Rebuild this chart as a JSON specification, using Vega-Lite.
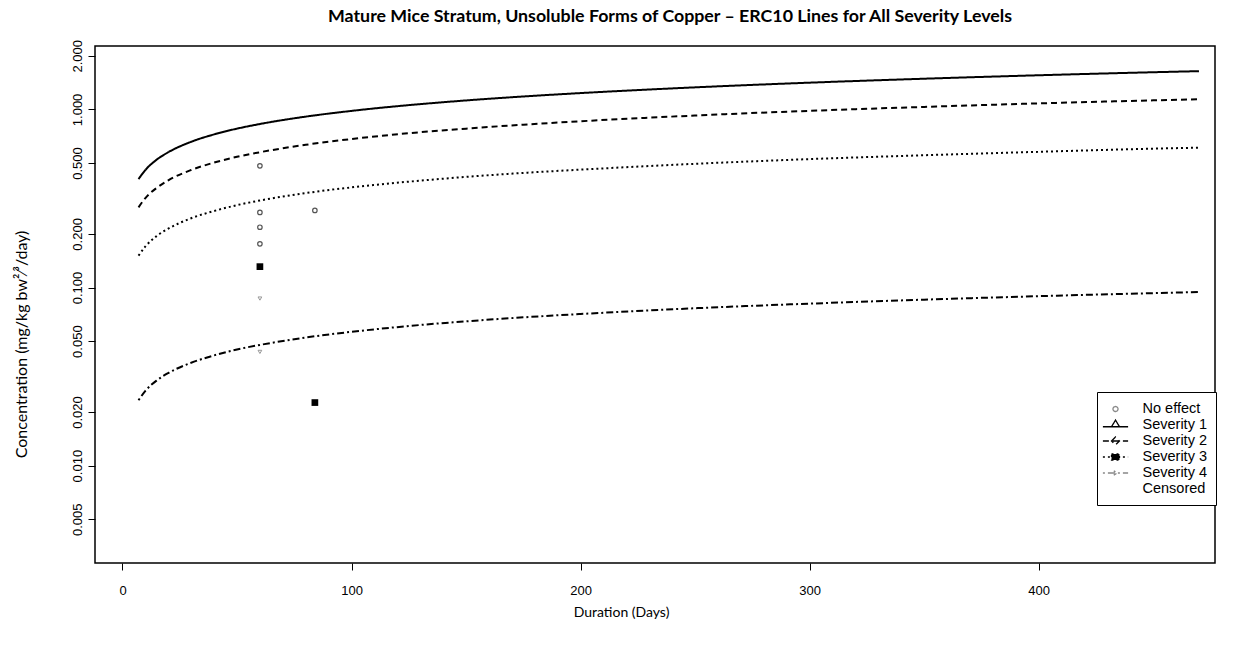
{
  "$schema": "https://vega.github.io/schema/vega-lite/v6.json",
  "autosize": {"type": "none"},
  "padding": {"left": 95, "top": 46, "right": 27, "bottom": 83},
  "width": 1120,
  "height": 517,
  "background": "white",
  "title": {
    "text": "Mature Mice Stratum, Unsoluble Forms of Copper \u2013 ERC10 Lines for All Severity Levels",
    "font": "Lato",
    "fontSize": 17.8,
    "fontWeight": "bold",
    "color": "black",
    "offset": 14,
    "dx": 15
  },
  "config": {
    "view": {"stroke": "black", "strokeWidth": 1.5},
    "axis": {
      "domain": false,
      "grid": false,
      "ticks": true,
      "tickColor": "black",
      "tickSize": 7,
      "tickWidth": 1,
      "labelFont": "Liberation Sans",
      "labelFontSize": 13,
      "labelColor": "black",
      "titleFont": "Lato",
      "titleFontSize": 14,
      "titleFontWeight": "normal",
      "titleColor": "black"
    },
    "legend": {
      "orient": "none",
      "legendX": 1002,
      "legendY": 346,
      "strokeColor": "black",
      "fillColor": "white",
      "padding": 9,
      "symbolSize": 196,
      "symbolOffset": 1.5,
      "symbolStrokeWidth": 1.3,
      "labelFont": "Liberation Sans",
      "labelFontSize": 14.5,
      "labelColor": "black",
      "labelOffset": 19,
      "rowPadding": 1
    }
  },
  "datasets": {
    "curves": [
      {"series": "Severity 1", "duration": 7, "conc": 0.406},
      {"series": "Severity 1", "duration": 10, "conc": 0.457},
      {"series": "Severity 1", "duration": 15, "conc": 0.523},
      {"series": "Severity 1", "duration": 20, "conc": 0.575},
      {"series": "Severity 1", "duration": 30, "conc": 0.658},
      {"series": "Severity 1", "duration": 40, "conc": 0.724},
      {"series": "Severity 1", "duration": 50, "conc": 0.780},
      {"series": "Severity 1", "duration": 60, "conc": 0.828},
      {"series": "Severity 1", "duration": 80, "conc": 0.911},
      {"series": "Severity 1", "duration": 100, "conc": 0.981},
      {"series": "Severity 1", "duration": 125, "conc": 1.057},
      {"series": "Severity 1", "duration": 150, "conc": 1.123},
      {"series": "Severity 1", "duration": 175, "conc": 1.182},
      {"series": "Severity 1", "duration": 200, "conc": 1.235},
      {"series": "Severity 1", "duration": 250, "conc": 1.330},
      {"series": "Severity 1", "duration": 300, "conc": 1.413},
      {"series": "Severity 1", "duration": 350, "conc": 1.487},
      {"series": "Severity 1", "duration": 400, "conc": 1.555},
      {"series": "Severity 1", "duration": 450, "conc": 1.617},
      {"series": "Severity 1", "duration": 470, "conc": 1.640},
      {"series": "Severity 2", "duration": 7, "conc": 0.282},
      {"series": "Severity 2", "duration": 10, "conc": 0.318},
      {"series": "Severity 2", "duration": 15, "conc": 0.363},
      {"series": "Severity 2", "duration": 20, "conc": 0.400},
      {"series": "Severity 2", "duration": 30, "conc": 0.457},
      {"series": "Severity 2", "duration": 40, "conc": 0.503},
      {"series": "Severity 2", "duration": 50, "conc": 0.542},
      {"series": "Severity 2", "duration": 60, "conc": 0.575},
      {"series": "Severity 2", "duration": 80, "conc": 0.633},
      {"series": "Severity 2", "duration": 100, "conc": 0.682},
      {"series": "Severity 2", "duration": 125, "conc": 0.735},
      {"series": "Severity 2", "duration": 150, "conc": 0.780},
      {"series": "Severity 2", "duration": 175, "conc": 0.821},
      {"series": "Severity 2", "duration": 200, "conc": 0.858},
      {"series": "Severity 2", "duration": 250, "conc": 0.924},
      {"series": "Severity 2", "duration": 300, "conc": 0.982},
      {"series": "Severity 2", "duration": 350, "conc": 1.033},
      {"series": "Severity 2", "duration": 400, "conc": 1.081},
      {"series": "Severity 2", "duration": 450, "conc": 1.124},
      {"series": "Severity 2", "duration": 470, "conc": 1.140},
      {"series": "Severity 3", "duration": 7, "conc": 0.151},
      {"series": "Severity 3", "duration": 10, "conc": 0.170},
      {"series": "Severity 3", "duration": 15, "conc": 0.195},
      {"series": "Severity 3", "duration": 20, "conc": 0.214},
      {"series": "Severity 3", "duration": 30, "conc": 0.245},
      {"series": "Severity 3", "duration": 40, "conc": 0.269},
      {"series": "Severity 3", "duration": 50, "conc": 0.290},
      {"series": "Severity 3", "duration": 60, "conc": 0.308},
      {"series": "Severity 3", "duration": 80, "conc": 0.339},
      {"series": "Severity 3", "duration": 100, "conc": 0.365},
      {"series": "Severity 3", "duration": 125, "conc": 0.393},
      {"series": "Severity 3", "duration": 150, "conc": 0.418},
      {"series": "Severity 3", "duration": 175, "conc": 0.440},
      {"series": "Severity 3", "duration": 200, "conc": 0.459},
      {"series": "Severity 3", "duration": 250, "conc": 0.495},
      {"series": "Severity 3", "duration": 300, "conc": 0.526},
      {"series": "Severity 3", "duration": 350, "conc": 0.553},
      {"series": "Severity 3", "duration": 400, "conc": 0.578},
      {"series": "Severity 3", "duration": 450, "conc": 0.602},
      {"series": "Severity 3", "duration": 470, "conc": 0.610},
      {"series": "Severity 4", "duration": 7, "conc": 0.0233},
      {"series": "Severity 4", "duration": 10, "conc": 0.0263},
      {"series": "Severity 4", "duration": 15, "conc": 0.0301},
      {"series": "Severity 4", "duration": 20, "conc": 0.0331},
      {"series": "Severity 4", "duration": 30, "conc": 0.0378},
      {"series": "Severity 4", "duration": 40, "conc": 0.0416},
      {"series": "Severity 4", "duration": 50, "conc": 0.0449},
      {"series": "Severity 4", "duration": 60, "conc": 0.0476},
      {"series": "Severity 4", "duration": 80, "conc": 0.0524},
      {"series": "Severity 4", "duration": 100, "conc": 0.0564},
      {"series": "Severity 4", "duration": 125, "conc": 0.0608},
      {"series": "Severity 4", "duration": 150, "conc": 0.0646},
      {"series": "Severity 4", "duration": 175, "conc": 0.0680},
      {"series": "Severity 4", "duration": 200, "conc": 0.0710},
      {"series": "Severity 4", "duration": 250, "conc": 0.0765},
      {"series": "Severity 4", "duration": 300, "conc": 0.0812},
      {"series": "Severity 4", "duration": 350, "conc": 0.0855},
      {"series": "Severity 4", "duration": 400, "conc": 0.0894},
      {"series": "Severity 4", "duration": 450, "conc": 0.0930},
      {"series": "Severity 4", "duration": 470, "conc": 0.0943}
    ],
    "obs": [
      {"series": "No effect", "duration": 60, "conc": 0.482},
      {"series": "No effect", "duration": 60, "conc": 0.264},
      {"series": "No effect", "duration": 60, "conc": 0.218},
      {"series": "No effect", "duration": 60, "conc": 0.176},
      {"series": "No effect", "duration": 84, "conc": 0.271},
      {"series": "Severity 3", "duration": 60, "conc": 0.131},
      {"series": "Severity 3", "duration": 84, "conc": 0.0226},
      {"series": "Severity 4", "duration": 60, "conc": 0.0867},
      {"series": "Severity 4", "duration": 60, "conc": 0.0435}
    ]
  },
  "encoding": {
    "x": {
      "field": "duration",
      "type": "quantitative",
      "scale": {"domain": [-12, 477], "nice": false, "zero": false},
      "axis": {
        "values": [0, 100, 200, 300, 400],
        "labelPadding": 14,
        "title": "Duration (Days)",
        "titlePadding": 8,
        "titleX": 526
      }
    },
    "y": {
      "field": "conc",
      "type": "quantitative",
      "scale": {"type": "log", "domain": [0.00284, 2.27], "nice": false},
      "axis": {
        "values": [0.005, 0.01, 0.02, 0.05, 0.1, 0.2, 0.5, 1, 2],
        "format": ".3f",
        "labelAngle": -90,
        "labelPadding": 4,
        "title": "Concentration (mg/kg bw\u00b2\u2044\u00b3/day)",
        "titleFontSize": 16,
        "titlePadding": 42,
        "titleY": 298
      }
    }
  },
  "layer": [
    {
      "data": {"name": "curves"},
      "mark": {"type": "line", "color": "black", "strokeWidth": 2, "interpolate": "monotone"},
      "encoding": {
        "strokeDash": {
          "field": "series",
          "type": "nominal",
          "scale": {
            "domain": ["No effect", "Severity 1", "Severity 2", "Severity 3", "Severity 4", "Censored"],
            "range": [[1, 0], [1, 0], [6, 4], [2, 3], [2, 3, 7, 3], [1, 0]]
          },
          "legend": {"title": null, "orient": "none"}
        }
      }
    },
    {
      "data": {"name": "curves"},
      "transform": [{"filter": "false"}],
      "mark": {"type": "point", "filled": false},
      "encoding": {
        "shape": {
          "field": "series",
          "type": "nominal",
          "scale": {
            "domain": ["No effect", "Severity 1", "Severity 2", "Severity 3", "Severity 4", "Censored"],
            "range": [
              "M-0.36,0A0.36,0.36,0,1,0,0.36,0A0.36,0.36,0,1,0,-0.36,0Z",
              "M-1.8,0.25H1.8M-0.57,0.25L0,-0.7L0.57,0.25Z",
              "M-1.8,0H1.8M-0.57,0L0,-0.57L0.57,0L0,0.57Z",
              "M-1.8,0H1.8M-0.57,-0.43H0.57V0.43H-0.57Z",
              "M-1.8,0H1.8M-0.25,-0.3L0.25,0L-0.25,0.3",
              "M0,0"
            ]
          },
          "legend": {"title": null, "orient": "none"}
        },
        "fill": {
          "field": "series",
          "type": "nominal",
          "scale": {
            "domain": ["No effect", "Severity 1", "Severity 2", "Severity 3", "Severity 4", "Censored"],
            "range": ["transparent", "transparent", "transparent", "black", "transparent", "transparent"]
          },
          "legend": {"title": null, "orient": "none"}
        },
        "stroke": {
          "field": "series",
          "type": "nominal",
          "scale": {
            "domain": ["No effect", "Severity 1", "Severity 2", "Severity 3", "Severity 4", "Censored"],
            "range": ["#888888", "black", "black", "black", "#888888", "black"]
          },
          "legend": {"title": null, "orient": "none"}
        }
      }
    },
    {
      "data": {"name": "obs"},
      "transform": [{"filter": "datum.series === 'No effect'"}],
      "mark": {"type": "point", "shape": "circle", "size": 20, "filled": false, "stroke": "#555555", "strokeWidth": 1.2, "opacity": 1}
    },
    {
      "data": {"name": "obs"},
      "transform": [{"filter": "datum.series === 'Severity 3'"}],
      "mark": {"type": "square", "size": 45, "color": "black", "opacity": 1}
    },
    {
      "data": {"name": "obs"},
      "transform": [{"filter": "datum.series === 'Severity 4'"}],
      "mark": {"type": "point", "shape": "triangle-down", "size": 14, "filled": false, "stroke": "#999999", "strokeWidth": 1, "opacity": 1}
    }
  ]
}
